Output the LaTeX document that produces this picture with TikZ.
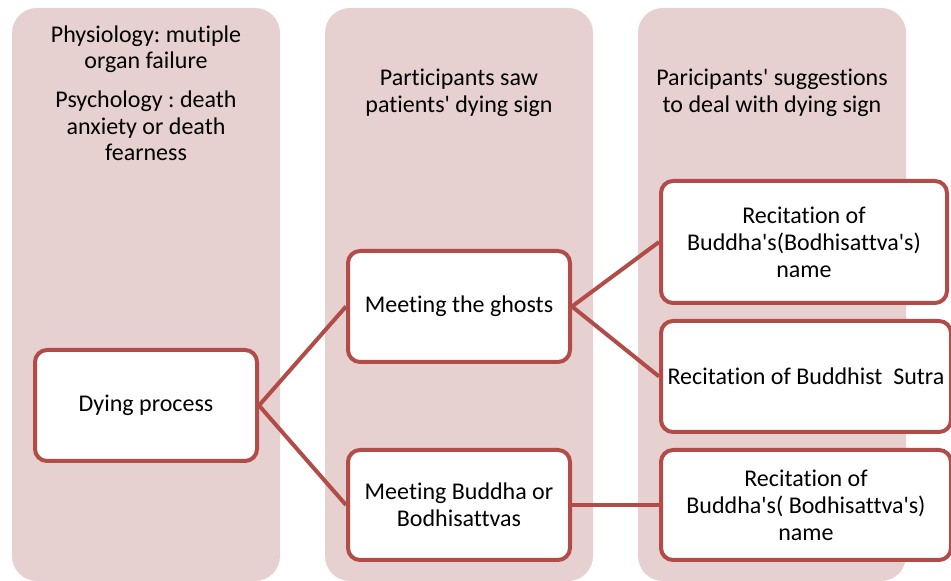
\documentclass[tikz,border=0pt]{standalone}
\usepackage{fontspec}
\setmainfont{Carlito}[Ligatures={NoCommon,NoRequired,NoContextual},Contextuals={NoAlternate}]
\definecolor{colbg}{RGB}{231,208,208}
\definecolor{boxline}{RGB}{178,76,73}
\newcommand{\ap}{\textquotesingle}
\frenchspacing
\begin{document}
\begin{tikzpicture}[x=1pt,y=1pt,
  colpanel/.style={fill=colbg,draw=none,rounded corners=25pt},
  stepbox/.style={draw=boxline,line width=4pt,fill=white,rounded corners=12pt,
    align=center,font=\fontsize{24}{27}\selectfont,inner sep=0pt},
  headtext/.style={align=center,font=\fontsize{24}{26.5}\selectfont,inner sep=0pt},
  link/.style={draw=boxline,line width=4pt}]
\useasboundingbox (0,0) rectangle (951,581);
\fill[white] (0,0) rectangle (951,581);
% columns
\path[colpanel] (12,0) rectangle (280,573);
\path[colpanel] (325,0) rectangle (593,573);
\path[colpanel] (638,0) rectangle (906,573);
% headers
\node[headtext] (h1a) at (146,532) {Physiology: mutiple\\organ failure};
\node[headtext] (h1b) at (146,455) {Psychology : death\\anxiety or death\\fearness};
\node[headtext] (h2) at (459,488) {Participants saw\\patients\ap{} dying sign};
\node[headtext] (h3) at (772,488) {Paricipants\ap{} suggestions\\to deal with dying sign};
% boxes
\node[stepbox,minimum width=222pt,minimum height=111pt] (dying) at (146,175.5) {Dying process};
\node[stepbox,minimum width=222pt,minimum height=111pt] (ghosts) at (459,274.5) {Meeting the ghosts};
\node[stepbox,minimum width=222pt,minimum height=110pt] (buddha) at (459,76) {Meeting Buddha or\\Bodhisattvas};
\node[stepbox,minimum width=286pt,minimum height=122pt] (r1) at (804,339) {Recitation of\\Buddha\ap{}s(Bodhisattva\ap{}s)\\name};
\node[stepbox,minimum width=290pt,minimum height=111pt] (r2) at (806,204.5) {Recitation of Buddhist\ \ Sutra};
\node[stepbox,minimum width=290pt,minimum height=110pt] (r3) at (806,76) {Recitation of\\Buddha\ap{}s( Bodhisattva\ap{}s)\\name};
% connectors
\draw[link] (dying.east) -- (ghosts.west);
\draw[link] (dying.east) -- (buddha.west);
\draw[link] (ghosts.east) -- (r1.west);
\draw[link] (ghosts.east) -- (r2.west);
\draw[link] (buddha.east) -- (r3.west);
\end{tikzpicture}
\end{document}
